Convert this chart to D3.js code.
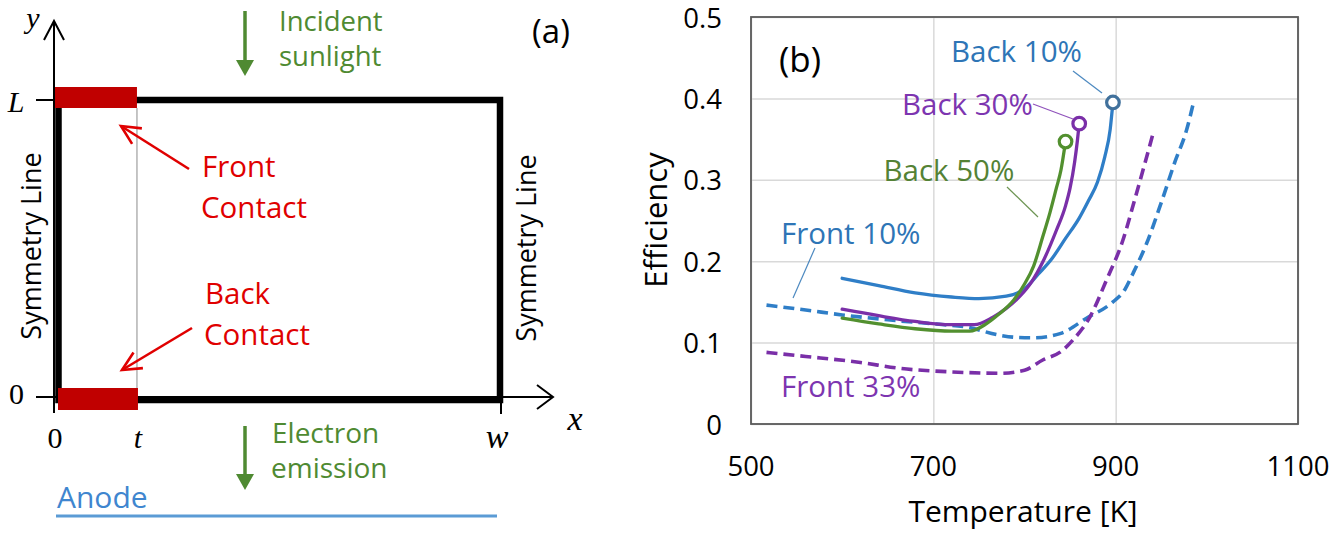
<!DOCTYPE html>
<html>
<head>
<meta charset="utf-8">
<script src="https://cdn.jsdelivr.net/npm/d3@7"></script>
<style>
  html, body { margin: 0; padding: 0; background: #fff; }
  svg { display: block; }
</style>
</head>
<body>
<svg id="fig" width="1343" height="533"></svg>
<script>
// ---------- Panel (a): schematic of the unit cell ----------
const cellMarkLabels = ["0", "t", "w"];
const cellMarkValues = [0, 0.186, 1];
const cellHeightLabels = ["0", "L"];
const cellHeightValues = [0, 1];

// ---------- Panel (b): efficiency vs. temperature ----------
const temperatureTicks = [500, 700, 900, 1100];
const efficiencyTicks = [0, 0.1, 0.2, 0.3, 0.4, 0.5];
const efficiencyTickLabels = ["0", "0.1", "0.2", "0.3", "0.4", "0.5"];

const seriesNames = ["Back 10%", "Back 30%", "Back 50%", "Front 10%", "Front 33%"];

const back10T = [600, 640, 680, 720, 750, 780, 800, 815, 830, 845, 860, 870, 880, 888, 894, 897];
const back10E = [0.179, 0.170, 0.161, 0.156, 0.154, 0.157, 0.166, 0.184, 0.203, 0.228, 0.253, 0.274, 0.297, 0.328, 0.362, 0.395];

const back30T = [600, 640, 680, 720, 745, 765, 780, 795, 808, 820, 835, 845, 850, 855, 858, 860];
const back30E = [0.141, 0.133, 0.126, 0.122, 0.122, 0.131, 0.142, 0.157, 0.175, 0.199, 0.238, 0.268, 0.290, 0.322, 0.348, 0.369];

const back50T = [600, 640, 680, 720, 740, 758, 772, 788, 800, 810, 820, 828, 835, 840, 845];
const back50E = [0.130, 0.123, 0.117, 0.114, 0.114, 0.123, 0.135, 0.152, 0.172, 0.194, 0.230, 0.260, 0.290, 0.312, 0.347];

const front10T = [517, 560, 600, 650, 700, 737, 773, 791, 810, 839, 868, 897, 910, 919, 934, 950, 965, 978, 986];
const front10E = [0.146, 0.140, 0.134, 0.128, 0.123, 0.119, 0.109, 0.1065, 0.106, 0.111, 0.130, 0.150, 0.165, 0.185, 0.222, 0.272, 0.322, 0.362, 0.398];

const front33T = [517, 560, 620, 663, 720, 773, 800, 820, 840, 853, 872, 890, 908, 920, 932, 942];
const front33E = [0.088, 0.083, 0.0756, 0.0684, 0.064, 0.0623, 0.066, 0.0786, 0.089, 0.103, 0.132, 0.177, 0.226, 0.272, 0.320, 0.361];

// ---------- helpers ----------
const svg = d3.select("#fig");
svg.append("rect").attr("width", 1343).attr("height", 533).attr("fill", "#fff");

const SANS = "'Open Sans', 'Noto Sans', sans-serif";
const SERIF = "'Liberation Serif', 'DejaVu Serif', serif";

function label(g, text, x, y, opt = {}) {
  const t = g.append("text")
    .attr("transform", `translate(${x},${y})` + (opt.rotate ? ` rotate(${opt.rotate})` : ""))
    .attr("font-family", opt.family || SANS)
    .attr("font-size", opt.size || 28)
    .attr("fill", opt.fill || "#000")
    .attr("text-anchor", opt.anchor || "start")
    .text(text);
  if (opt.italic) t.attr("font-style", "italic");
  return t;
}

// ================= Panel (a) =================
const A = svg.append("g");
const cx = d3.scaleLinear().domain([0, 1]).range([54, 500]);
const cy = d3.scaleLinear().domain([0, 1]).range([397, 100]);
const tPos = cellMarkValues[1];

// thin coordinate axes with open arrow heads
A.append("line").attr("x1", cx(0)).attr("x2", cx(0)).attr("y1", cy(0) + 16).attr("y2", 21)
  .attr("stroke", "#000").attr("stroke-width", 2);
A.append("path").attr("d", `M${cx(0) - 10},40 L${cx(0)},21 L${cx(0) + 10},40`)
  .attr("fill", "none").attr("stroke", "#000").attr("stroke-width", 2);
A.append("line").attr("x1", cx(0)).attr("x2", 553).attr("y1", cy(0)).attr("y2", cy(0))
  .attr("stroke", "#000").attr("stroke-width", 2);
A.append("path").attr("d", `M537,${cy(0) - 12} L553,${cy(0)} L537,${cy(0) + 12}`)
  .attr("fill", "none").attr("stroke", "#000").attr("stroke-width", 2);

// tick marks on the axes
cellHeightValues.forEach(v => {
  A.append("line").attr("x1", cx(0) - 18).attr("x2", cx(0)).attr("y1", cy(v)).attr("y2", cy(v))
    .attr("stroke", "#000").attr("stroke-width", 2);
});
A.append("line").attr("x1", cx(1) + 1).attr("x2", cx(1) + 1).attr("y1", cy(0)).attr("y2", cy(0) + 17)
  .attr("stroke", "#000").attr("stroke-width", 2);

// thin contact boundary line at x = t
A.append("line").attr("x1", cx(tPos)).attr("x2", cx(tPos)).attr("y1", cy(1) + 8).attr("y2", cy(0) + 12)
  .attr("stroke", "#a6a6a6").attr("stroke-width", 1.3);

// the cell boundary
A.append("rect")
  .attr("x", cx(0) + 4.5).attr("y", cy(1))
  .attr("width", cx(1) - cx(0) - 4.5).attr("height", cy(0) + 3 - cy(1))
  .attr("fill", "none").attr("stroke", "#000").attr("stroke-width", 6.5);

// contacts
A.append("rect").attr("x", cx(0) + 1).attr("y", cy(1) - 13)
  .attr("width", cx(tPos) - cx(0) - 1).attr("height", 21).attr("fill", "#c00000");
A.append("rect").attr("x", cx(0) + 4).attr("y", cy(0) - 9)
  .attr("width", cx(tPos) - cx(0) - 3).attr("height", 22).attr("fill", "#c00000");

// axis letters
label(A, "y", 33, 28, { family: SERIF, italic: true, size: 30, anchor: "middle" });
label(A, cellHeightLabels[1], 16, 112, { family: SERIF, italic: true, size: 30, anchor: "middle" });
label(A, cellHeightLabels[0], 16.5, 404, { family: SERIF, size: 30, anchor: "middle" });
cellMarkValues.forEach((v, i) => {
  label(A, cellMarkLabels[i], cx(v) + (i === 2 ? -3 : 1), 448,
    { family: SERIF, italic: i > 0, size: i === 2 ? 34 : 30, anchor: "middle" });
});
label(A, "x", 575, 430, { family: SERIF, italic: true, size: 34, anchor: "middle" });

// symmetry lines
label(A, "Symmetry Line", 41, 246, { size: 27, anchor: "middle", rotate: -90 });
label(A, "Symmetry Line", 536, 248, { size: 27, anchor: "middle", rotate: -90 });

// panel tag
label(A, "(a)", 551, 43, { size: 33, anchor: "middle" });

// sunlight and emission arrows
const GREEN = "#4f8a32";
function downArrow(x, y0, y1) {
  A.append("line").attr("x1", x).attr("x2", x).attr("y1", y0).attr("y2", y1 - 14)
    .attr("stroke", GREEN).attr("stroke-width", 3.5);
  A.append("path").attr("d", `M${x - 9},${y1 - 16} L${x + 9},${y1 - 16} L${x},${y1} Z`).attr("fill", GREEN);
}
downArrow(245, 11, 76);
downArrow(245, 426, 490);
label(A, "Incident", 279, 31, { size: 27.5, fill: GREEN });
label(A, "sunlight", 279, 66, { size: 27.5, fill: GREEN });
label(A, "Electron", 272, 443, { size: 28, fill: GREEN });
label(A, "emission", 271, 478, { size: 28, fill: GREEN });

// contact call-outs
const RED = "#e00000";
function redArrow(x0, y0, x1, y1) {
  A.append("line").attr("x1", x0).attr("y1", y0).attr("x2", x1).attr("y2", y1)
    .attr("stroke", RED).attr("stroke-width", 2.6);
  const ang = Math.atan2(y0 - y1, x0 - x1);
  const len = 21, spread = 0.45;
  const p1 = [x1 + len * Math.cos(ang + spread), y1 + len * Math.sin(ang + spread)];
  const p2 = [x1 + len * Math.cos(ang - spread), y1 + len * Math.sin(ang - spread)];
  A.append("path").attr("d", `M${p1[0]},${p1[1]} L${x1},${y1} L${p2[0]},${p2[1]}`)
    .attr("fill", "none").attr("stroke", RED).attr("stroke-width", 2.6);
}
redArrow(189, 169, 121, 126);
redArrow(192, 328, 122, 370);
label(A, "Front", 202, 177, { size: 29.5, fill: RED });
label(A, "Contact", 201, 218, { size: 29.5, fill: RED });
label(A, "Back", 205, 304, { size: 29.5, fill: RED });
label(A, "Contact", 204, 345, { size: 29.5, fill: RED });

// anode
A.append("line").attr("x1", 56).attr("x2", 497).attr("y1", 516).attr("y2", 516)
  .attr("stroke", "#5b9bd5").attr("stroke-width", 3);
label(A, "Anode", 57, 508, { size: 30, fill: "#3f86cf" });

// ================= Panel (b) =================
const B = svg.append("g");
const x = d3.scaleLinear().domain([500, 1100]).range([751, 1298]);
const y = d3.scaleLinear().domain([0, 0.5]).range([424, 17]);

// grid
B.append("g").call(d3.axisBottom(x).tickValues(temperatureTicks).tickSize(-(y(0) - y(0.5))).tickFormat(""))
  .attr("transform", `translate(0,${y(0)})`)
  .call(g => g.select(".domain").remove())
  .call(g => g.selectAll("line").attr("stroke", "#d9d9d9").attr("stroke-width", 1.5));
B.append("g").call(d3.axisLeft(y).tickValues(efficiencyTicks).tickSize(-(x(1100) - x(500))).tickFormat(""))
  .attr("transform", `translate(${x(500)},0)`)
  .call(g => g.select(".domain").remove())
  .call(g => g.selectAll("line").attr("stroke", "#d9d9d9").attr("stroke-width", 1.5));

// frame
B.append("rect").attr("x", x(500)).attr("y", y(0.5))
  .attr("width", x(1100) - x(500)).attr("height", y(0) - y(0.5))
  .attr("fill", "none").attr("stroke", "#595959").attr("stroke-width", 1.8);

// tick labels
efficiencyTicks.forEach((v, i) => {
  label(B, efficiencyTickLabels[i], 722, y(v) + 10.5, { size: 27.5, anchor: "end" });
});
temperatureTicks.forEach(v => {
  label(B, String(v), x(v), 476, { size: 27.5, anchor: "middle" });
});
label(B, "Temperature [K]", 1023, 522, { size: 30, anchor: "middle" });
label(B, "Efficiency", 667, 220, { size: 31, anchor: "middle", rotate: -90 });

// curves
const BLUE = "#2f7ec7", PURPLE = "#7a2fa8", LGREEN = "#52902f";
const curves = [
  { T: back10T, E: back10E, color: BLUE, dash: null, marker: "#41719c" },
  { T: back30T, E: back30E, color: PURPLE, dash: null, marker: PURPLE },
  { T: back50T, E: back50E, color: LGREEN, dash: null, marker: LGREEN },
  { T: front10T, E: front10E, color: BLUE, dash: "11,6", marker: null },
  { T: front33T, E: front33E, color: PURPLE, dash: "11,6", marker: null }
];
const line = d3.line().x(d => x(d[0])).y(d => y(d[1])).curve(d3.curveMonotoneX);

// dashed curves sit underneath the solid ones
[3, 4, 0, 1, 2].forEach(i => {
  const c = curves[i];
  const pts = c.T.map((t, k) => [t, c.E[k]]);
  const p = B.append("path").datum(pts).attr("d", line)
    .attr("fill", "none").attr("stroke", c.color)
    .attr("stroke-width", c.dash ? 3.6 : 3.3)
    .attr("stroke-linecap", c.dash ? "butt" : "round");
  if (c.dash) p.attr("stroke-dasharray", c.dash);
});
curves.forEach(c => {
  if (!c.marker) return;
  const n = c.T.length - 1;
  B.append("circle").attr("cx", x(c.T[n])).attr("cy", y(c.E[n])).attr("r", 6.3)
    .attr("fill", "#fff").attr("stroke", c.marker).attr("stroke-width", 3.2);
});

// series labels with leader lines (in data units)
const labelColors = ["#2e75b6", "#7d35b0", "#548235", "#2e75b6", "#7d35b0"];
const labelAt = [[719.4, 0.4447], [665.6, 0.3796], [645.3, 0.2985], [532.9, 0.2211], [532.9, 0.0332]];
const leaders = [
  [[853.2, 0.4337], [885.0, 0.4066]],
  [[809.3, 0.3931], [853.2, 0.3747]],
  [[780.8, 0.2912], [814.8, 0.2543]],
  [[570.2, 0.2162], [546.1, 0.1548]],
  null
];
seriesNames.forEach((name, i) => {
  if (leaders[i]) {
    const [a, b] = leaders[i];
    B.append("line").attr("x1", x(a[0])).attr("y1", y(a[1])).attr("x2", x(b[0])).attr("y2", y(b[1]))
      .attr("stroke", labelColors[i]).attr("stroke-width", 1.2).attr("opacity", 0.85);
  }
  label(B, name, x(labelAt[i][0]), y(labelAt[i][1]), { size: 29.5, fill: labelColors[i] });
});

label(B, "(b)", x(530.7), y(0.4324), { size: 35 });
</script>
</body>
</html>
